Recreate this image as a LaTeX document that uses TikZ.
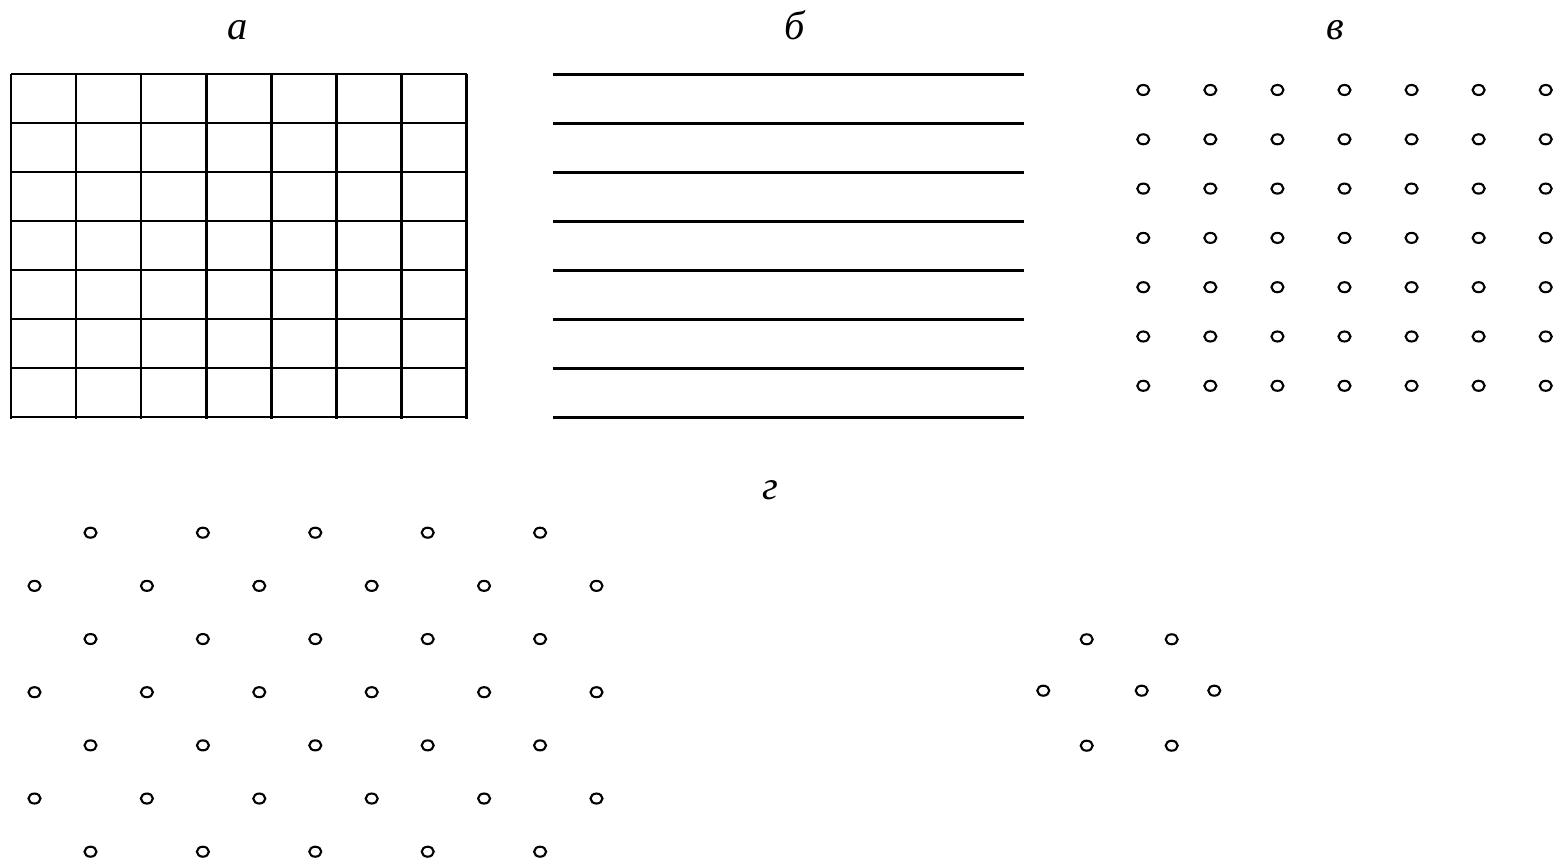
\documentclass[tikz,border=0pt]{standalone}
\usepackage{fontspec}
\setmainfont{Liberation Serif}

\begin{document}
\begin{tikzpicture}[x=0.01cm,y=-0.01cm,
  gridLine/.style={line width=0.7pt,color=black},
  ringDot/.style={line width=0.6pt,color=black},
  panelLbl/.style={anchor=base,inner sep=0pt,font=\fontsize{11.5}{14}\selectfont\itshape}]
\useasboundingbox (0,0) rectangle (1562,864);

% labels
\node[panelLbl] (lblA) at (238,40) {а};
\node[panelLbl] (lblB) at (795,40) {б};
\node[panelLbl] (lblV) at (1335,40) {в};
\node[panelLbl] (lblG) at (770,500) {г};

% a: square grid
\foreach \j in {0,...,7}
  \draw[gridLine] (11,74+49*\j) -- (467,74+49*\j);
\foreach \i in {0,...,7}
  \draw[gridLine] (11+65.1*\i,74) -- (11+65.1*\i,419);

% b: parallel lines
\foreach \j in {0,...,7}
  \draw[gridLine] (553,74.5+49*\j) -- (1024,74.5+49*\j);

% v: square lattice of rings
\foreach \i in {0,...,6}
  \foreach \j in {0,...,6}
    \draw[ringDot] (1143.3+67.07*\i,90+49.3*\j) ellipse [x radius=6,y radius=5];

% g: hexagonal lattice of rings
\foreach \j in {0,2,4,6}
  \foreach \i in {0,...,4}
    \draw[ringDot] (90.5+112.4*\i,532.7+53.17*\j) ellipse [x radius=6,y radius=5];
\foreach \j in {1,3,5}
  \foreach \i in {0,...,5}
    \draw[ringDot] (34.5+112.4*\i,532.7+53.17*\j) ellipse [x radius=6,y radius=5];

% g: single cell
\foreach \p in {(1086.7,639.3),(1171.7,639.3),(1043.3,690.7),(1141.7,690.7),
                (1214.3,690.7),(1086.7,745.7),(1171.7,745.7)}
  \draw[ringDot] \p ellipse [x radius=6,y radius=5];

\end{tikzpicture}
\end{document}
